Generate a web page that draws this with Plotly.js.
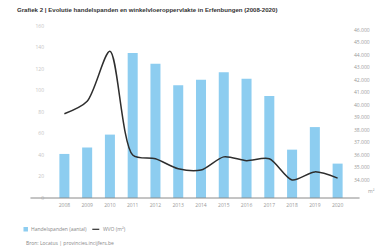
<!DOCTYPE html>
<html>
<head>
<meta charset="utf-8">
<script src="https://cdn.plot.ly/plotly-3.0.1.min.js"></script>
<style>html,body{margin:0;padding:0;background:#fff;}#chart{width:384px;height:252px;}</style>
</head>
<body>
<div id="chart"></div>
<script>
var years = ['2008','2009','2010','2011','2012','2013','2014','2015','2016','2017','2018','2019','2020'];
var handelspanden = [41, 47, 59, 135, 125, 105, 110, 117, 111, 95, 45, 66, 32];
var wvo = [39300, 40300, 44300, 36000, 35700, 34900, 34800, 35850, 35550, 35700, 34000, 34650, 34150];
var leftTicks = [0, 20, 40, 60, 80, 100, 120, 140, 160];
var rightTicks = [34000, 35000, 36000, 37000, 38000, 39000, 40000, 41000, 42000, 43000, 44000, 45000, 46000];
var seriesNames = ['Handelspanden (aantal)', 'WVO (m²)'];

var W = 384, H = 252;
var L = 52.6, R = 349.4, T = 25, B = 198;
var pw = R - L, ph = B - T;
function px(x){ return (x - L) / pw; }
function py(y){ return (B - y) / ph; }

var barColor = '#8dcdf0', lineColor = '#2e2e2e';

var traces = [
  {type:'bar', x: years, y: handelspanden, name: seriesNames[0],
   marker:{color:barColor}, yaxis:'y', hoverinfo:'none'},
  {type:'scatter', mode:'lines', x: years, y: wvo, name: seriesNames[1],
   line:{color:lineColor, width:1.5, shape:'spline', smoothing:0.8}, yaxis:'y2', hoverinfo:'none'}
];

var layout = {
  width: W, height: H,
  margin:{l:L, r:W-R, t:T, b:H-B, pad:0},
  paper_bgcolor:'#fff', plot_bgcolor:'#fff',
  separators: ',.',
  font:{family:'Open Sans, Liberation Sans, sans-serif', size:5, color:'#999'},
  showlegend:false,
  bargap:0.56,
  title:{text:'<b>Grafiek 2 | Evolutie handelspanden en winkelvloeroppervlakte in Erfenbungen (2008-2020)</b>',
         x:17/W, xanchor:'left', xref:'container', y:1-10/H, yanchor:'middle', yref:'container',
         font:{size:6.1, color:'#333', family:'Liberation Sans, Arial, sans-serif'}},
  xaxis:{type:'category', showgrid:false, zeroline:false, showline:false, ticks:'',
         tickfont:{size:5, color:'#999'}, ticklabelstandoff:3},
  yaxis:{range:[0,161], tickvals:leftTicks, showgrid:false, zeroline:false, showline:false,
         ticks:'', tickfont:{size:5, color:'#c4c4c4'}, ticklabelstandoff:8},
  yaxis2:{range:[32560,46400], overlaying:'y', side:'right', tickvals:rightTicks, tickformat:',d',
          showgrid:false, zeroline:false, showline:false, ticks:'', tickfont:{size:5, color:'#999'},
          ticklabelstandoff:4},
  shapes:[
    {type:'line', xref:'paper', yref:'paper', x0:px(30), x1:px(360), y0:0, y1:0,
     line:{color:'#8a8a8a', width:1}},
    {type:'rect', xref:'paper', yref:'paper', x0:px(23), x1:px(27.5), y0:py(231.5), y1:py(227),
     fillcolor:barColor, line:{width:0}},
    {type:'line', xref:'paper', yref:'paper', x0:px(92), x1:px(99), y0:py(229.3), y1:py(229.3),
     line:{color:lineColor, width:1.2}}
  ],
  annotations:[
    {text:'m²', xref:'paper', yref:'y2', x:px(372), y:33100, showarrow:false,
     font:{size:5, color:'#999'}, xanchor:'center'},
    {text: seriesNames[0], xref:'paper', yref:'paper', x:px(29), y:py(229.3),
     xanchor:'left', yanchor:'middle', showarrow:false, font:{size:5, color:'#888'}},
    {text: seriesNames[1], xref:'paper', yref:'paper', x:px(100.5), y:py(229.3),
     xanchor:'left', yanchor:'middle', showarrow:false, font:{size:5, color:'#888'}},
    {text:'Bron: Locatus | provincies.incijfers.be', xref:'paper', yref:'paper',
     x:px(24), y:py(243), xanchor:'left', yanchor:'middle', showarrow:false,
     font:{size:5, color:'#888'}}
  ]
};

Plotly.newPlot('chart', traces, layout, {displayModeBar:false, staticPlot:true});
</script>
</body>
</html>
